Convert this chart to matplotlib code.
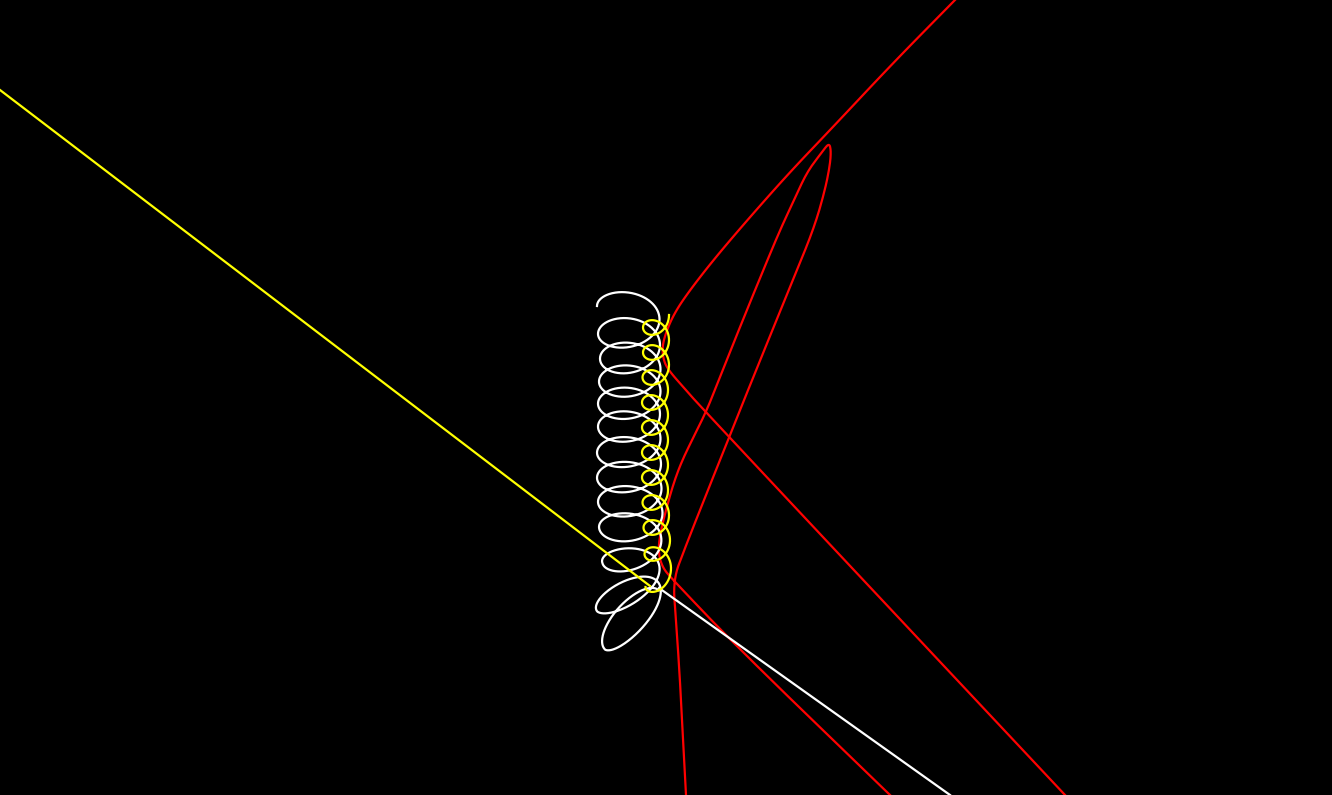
import numpy as np
import matplotlib
matplotlib.use("Agg")
import matplotlib.pyplot as plt

# ---------------- data (image pixel coords) -------------
# Red curve 1 (hyperbola-like branch)
red1_x = [955, 893, 832, 790, 750, 715, 690, 675, 666, 662, 664, 670, 685, 700, 1065]
red1_y = [0, 63, 128, 172, 217, 258, 290, 312, 332, 348, 362, 372, 389, 406, 795]

# Red curve 2 (spike with cusp)
red2_x = [686, 683, 680, 676, 673, 685, 700, 712, 742, 772, 798, 815, 825, 830, 831,
          829, 822, 807, 795, 780, 760, 740, 722, 707, 692, 681, 673, 666, 661, 658, 662,
          673, 740, 890]
red2_y = [795, 740, 680, 620, 580, 548, 510, 480, 405, 331, 268, 225, 190, 165, 150,
          143, 152, 172, 198, 230, 278, 327, 372, 410, 440, 463, 485, 510, 530, 550, 567,
          580, 650, 795]

# White helix: per-turn centre, semi-axes and tilt
white_cx = [628, 629, 630, 630, 629, 629, 629, 629, 630, 631, 631, 627, 632]
white_cy = [306, 333, 358, 381, 403, 426, 452, 477, 501, 526, 558, 593, 620]
white_a = [31, 31, 30, 31, 31, 31, 32, 32, 32, 32, 29, 35, 40]
white_b = [20, 21, 21, 21, 21, 21, 21, 21, 21, 21, 19, 19, 18]
white_tilt = [0, -2, -2, -2, -2, -2, -2, -2, -2, -2, -10, -32, -48]
white_turns = 12.5

# White exit line
white_line_x = [659, 950]
white_line_y = [588, 795]

# Yellow helix
yellow_cx = [656, 656, 656, 655, 655, 655, 655, 655, 656, 657, 658, 659]
yellow_cy = [315, 340, 365, 390, 415, 440, 465, 490, 515, 540, 568, 606]
yellow_a = [13, 13, 13, 13, 13, 13, 13, 13, 13, 13, 13, 13]
yellow_b = [13, 13, 13, 13, 13, 13, 13, 13, 13, 13, 13, 13]
yellow_turns = 10.5

# Yellow entry line
yellow_line_x = [0, 650]
yellow_line_y = [90, 586]

W, H = 1332, 795


def helix(cx, cy, a, b, tilt, theta0, turns, n=5000):
    th = np.linspace(theta0, theta0 + 2 * np.pi * turns, n)
    u = (th - theta0) / (2 * np.pi)
    idx = np.arange(len(cx))
    CX = np.interp(u, idx, cx)
    CY = np.interp(u, idx, cy)
    A = np.interp(u, idx, a)
    B = np.interp(u, idx, b)
    T = np.deg2rad(np.interp(u, idx, tilt))
    ex = A * np.cos(th)
    ey = B * np.sin(th)
    x = CX + ex * np.cos(T) - ey * np.sin(T)
    y = CY + ex * np.sin(T) + ey * np.cos(T)
    return x, y


def chaikin(xs, ys, iters=3):
    p = np.column_stack([xs, ys]).astype(float)
    for _ in range(iters):
        q = 0.75 * p[:-1] + 0.25 * p[1:]
        r = 0.25 * p[:-1] + 0.75 * p[1:]
        mid = np.empty((2 * len(q), 2))
        mid[0::2] = q
        mid[1::2] = r
        p = np.vstack([p[:1], mid, p[-1:]])
    return p[:, 0], p[:, 1]


fig = plt.figure(figsize=(W / 100, H / 100), dpi=100, facecolor="black")
ax = fig.add_axes([0, 0, 1, 1])
ax.set_facecolor("black")
ax.set_xlim(0, W)
ax.set_ylim(H, 0)
ax.axis("off")

lw = 1.6
rx, ry = chaikin(red1_x, red1_y)
ax.plot(rx, ry, color="#ff0000", lw=lw)
rx, ry = chaikin(red2_x, red2_y)
ax.plot(rx, ry, color="#ff0000", lw=lw)

wx, wy = helix(white_cx, white_cy, white_a, white_b, white_tilt, np.pi, white_turns)
ax.plot(wx, wy, color="white", lw=lw)
ax.plot(white_line_x, white_line_y, color="white", lw=lw)

yx, yy = helix(yellow_cx, yellow_cy, yellow_a, yellow_b, [0] * len(yellow_cx), 0.0, yellow_turns)
ax.plot(yx, yy, color="#ffff00", lw=lw)
ax.plot(yellow_line_x, yellow_line_y, color="#ffff00", lw=lw)

fig.savefig("out.png", dpi=100, facecolor="black")
